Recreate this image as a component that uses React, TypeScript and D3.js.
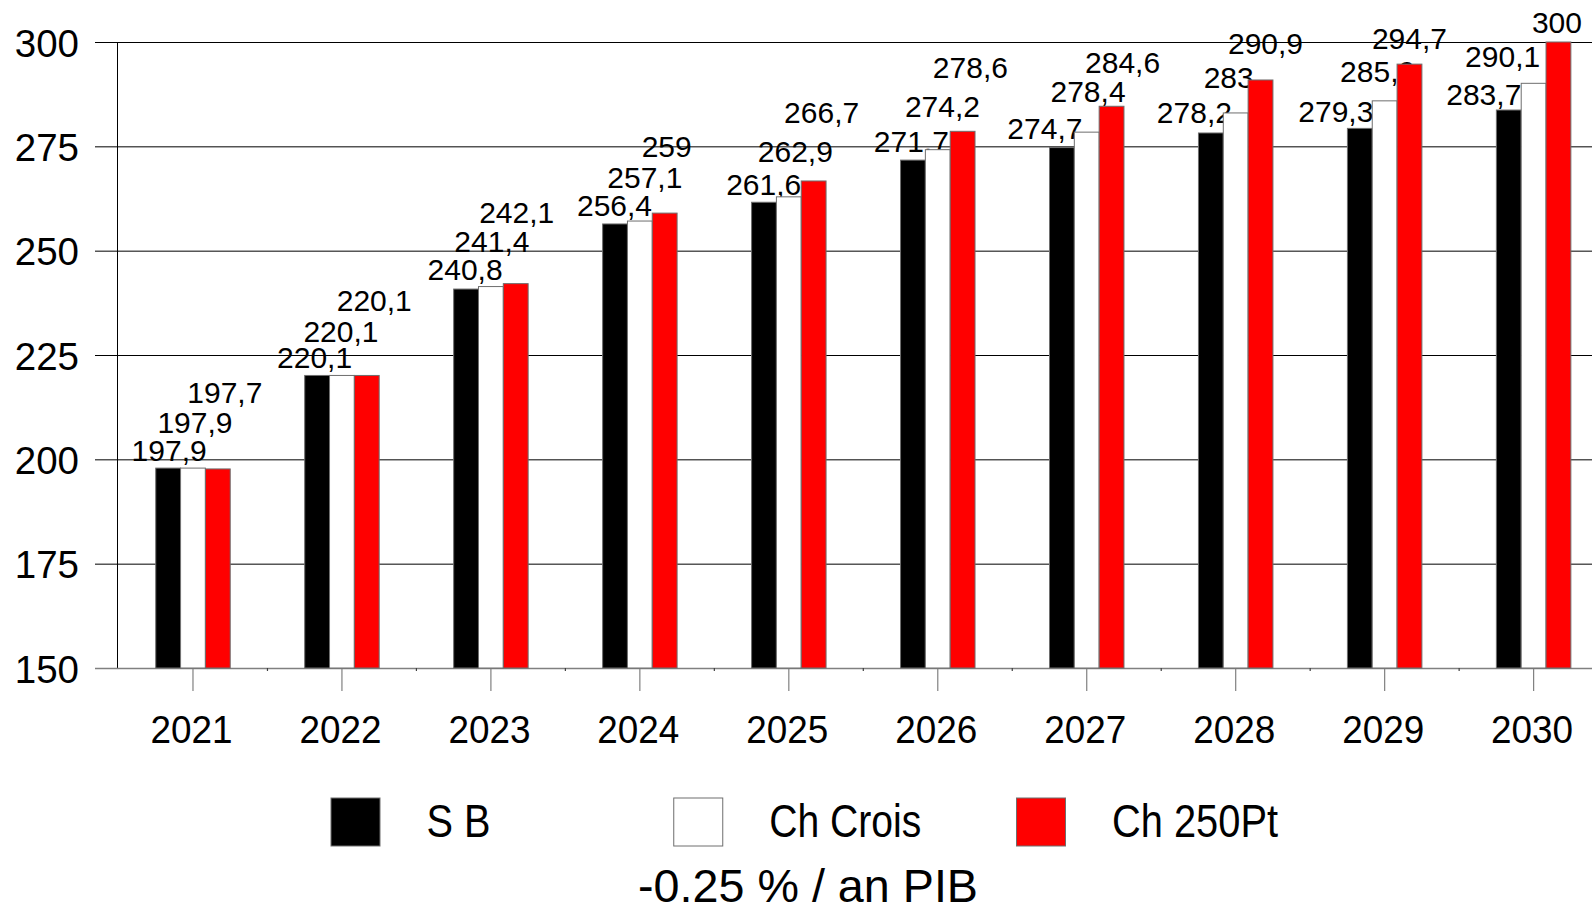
import React from 'react';
import * as d3 from 'd3';

// ---- data ----
const years = ['2021', '2022', '2023', '2024', '2025', '2026', '2027', '2028', '2029', '2030'];
const seriesNames = ['S B', 'Ch Crois', 'Ch 250Pt'];
const sb = [197.9, 220.1, 240.8, 256.4, 261.6, 271.7, 274.7, 278.2, 279.3, 283.7];
const chCrois = [197.9, 220.1, 241.4, 257.1, 262.9, 274.2, 278.4, 283, 285.9, 290.1];
const ch250 = [197.7, 220.1, 242.1, 259, 266.7, 278.6, 284.6, 290.9, 294.7, 300];
const yTicks = [150, 175, 200, 225, 250, 275, 300];
const subtitle = '-0.25 % / an PIB';

// ---- styles / layout ----
const W = 1592;
const H = 904;
const FONT = "'Liberation Sans', Arial, Helvetica, sans-serif";
const fills = ['#000000', '#ffffff', '#ff0000'];
// label nudges relative to each bar (horizontal from bar centre, vertical baseline from bar top)
const labelDx = [
  [1, -2.5, -1, -0.5, -0.3, -1.6, -17, -16.5, -24, -25],
  [2, -1, 1, 5, 6.5, 4.7, 1.3, -7, -7, -31],
  [7, 7.5, 1, 2, 8, 7.8, 11, 5, 0, -1.5],
];
const labelDy = [
  [-7.5, -7, -9, -8, -7.3, -8.4, -8.3, -9.7, -6.7, -5],
  [-35.4, -33.7, -35, -32.8, -35.2, -33, -30.4, -25.3, -18.5, -16.6],
  [-65.6, -64.7, -60.3, -55.8, -57.7, -53.6, -33, -26.1, -15.3, -8.7],
];

export default function App() {
  const series = [sb, chCrois, ch250];
  const step = 148.96;
  const x = d3
    .scaleBand<string>()
    .domain(years)
    .range([118.5, 118.5 + step * years.length])
    .paddingInner(0.5)
    .paddingOuter(0.25);
  const sub = d3.scaleBand<number>().domain([0, 1, 2]).range([0, x.bandwidth()]);
  const y = d3.scaleLinear().domain([150, 300]).range([668, 42]);
  const y0 = y(150);
  const axisX = 117.5;
  const fmt = (v: number) => String(v).replace('.', ',');

  const legendX = d3.scaleLinear().domain([0, 2]).range([331, 1016.5]);

  return (
    <svg
      width={W}
      height={H}
      style={{ position: 'absolute', left: 0, top: 0, display: 'block', background: '#fff' }}
      fontFamily={FONT}
    >
      <rect x={0} y={0} width={W} height={H} fill="#fff" />
      {/* gridlines */}
      {yTicks.map((t) =>
        t === 150 ? null : (
          <line key={'g' + t} x1={95} x2={W} y1={y(t) + 0.5} y2={y(t) + 0.5} stroke="#000" strokeWidth={1} />
        )
      )}
      {/* y labels */}
      {yTicks.map((t) => (
        <text key={'yl' + t} x={79} y={y(t) + 14.5} textAnchor="end" fontSize={38.5} fill="#000">
          {t}
        </text>
      ))}
      {/* y axis */}
      <line x1={axisX} x2={axisX} y1={y(300)} y2={y0} stroke="#000" strokeWidth={1} />
      {/* x axis baseline */}
      <line x1={95} x2={W} y1={y0 + 0.5} y2={y0 + 0.5} stroke="#808080" strokeWidth={1.5} />
      {/* x major ticks */}
      {years.map((yr) => {
        const cx = (x(yr) as number) + x.bandwidth() / 2;
        return <line key={'xt' + yr} x1={cx} x2={cx} y1={y0} y2={y0 + 23} stroke="#808080" strokeWidth={1.2} />;
      })}
      {/* x minor ticks at band boundaries */}
      {years.map((yr) => {
        const bx = (x(yr) as number) + x.bandwidth() + x.step() * 0.25;
        return <line key={'xm' + yr} x1={bx} x2={bx} y1={y0} y2={y0 + 3} stroke="#404040" strokeWidth={1.2} />;
      })}
      {/* x labels */}
      {years.map((yr) => {
        const cx = (x(yr) as number) + x.bandwidth() / 2;
        return (
          <text key={'xl' + yr} x={cx - 1.5} y={742.5} textAnchor="middle" fontSize={39} fill="#000" textLength={82} lengthAdjust="spacingAndGlyphs">
            {yr}
          </text>
        );
      })}
      {/* bars + labels, series by series */}
      {series.map((vals, si) => (
        <g key={'s' + si}>
          {vals.map((v, i) => {
            const bx = (x(years[i]) as number) + (sub(si) as number);
            return (
              <rect
                key={'b' + i}
                x={bx}
                y={y(v)}
                width={sub.bandwidth()}
                height={y0 - y(v)}
                fill={fills[si]}
                stroke="#6e6e6e"
                strokeWidth={1}
              />
            );
          })}
          {vals.map((v, i) => {
            const cx = (x(years[i]) as number) + (sub(si) as number) + sub.bandwidth() / 2;
            return (
              <text
                key={'l' + i}
                x={cx + labelDx[si][i]}
                y={y(v) + labelDy[si][i]}
                textAnchor="middle"
                fontSize={30}
                fill="#000"
              >
                {fmt(v)}
              </text>
            );
          })}
        </g>
      ))}
      {/* legend */}
      {seriesNames.map((name, i) => {
        const lx = legendX(i);
        const lens = [64, 152, 166];
        return (
          <g key={'lg' + i}>
            <rect x={lx} y={798} width={49} height={48} fill={fills[i]} stroke="#6e6e6e" strokeWidth={1} />
            <text x={lx + 95.5} y={837} fontSize={46} fill="#000" textLength={lens[i]} lengthAdjust="spacingAndGlyphs">
              {name}
            </text>
          </g>
        );
      })}
      <text x={808} y={902} textAnchor="middle" fontSize={47} fill="#000" textLength={340} lengthAdjust="spacingAndGlyphs">
        {subtitle}
      </text>
    </svg>
  );
}
